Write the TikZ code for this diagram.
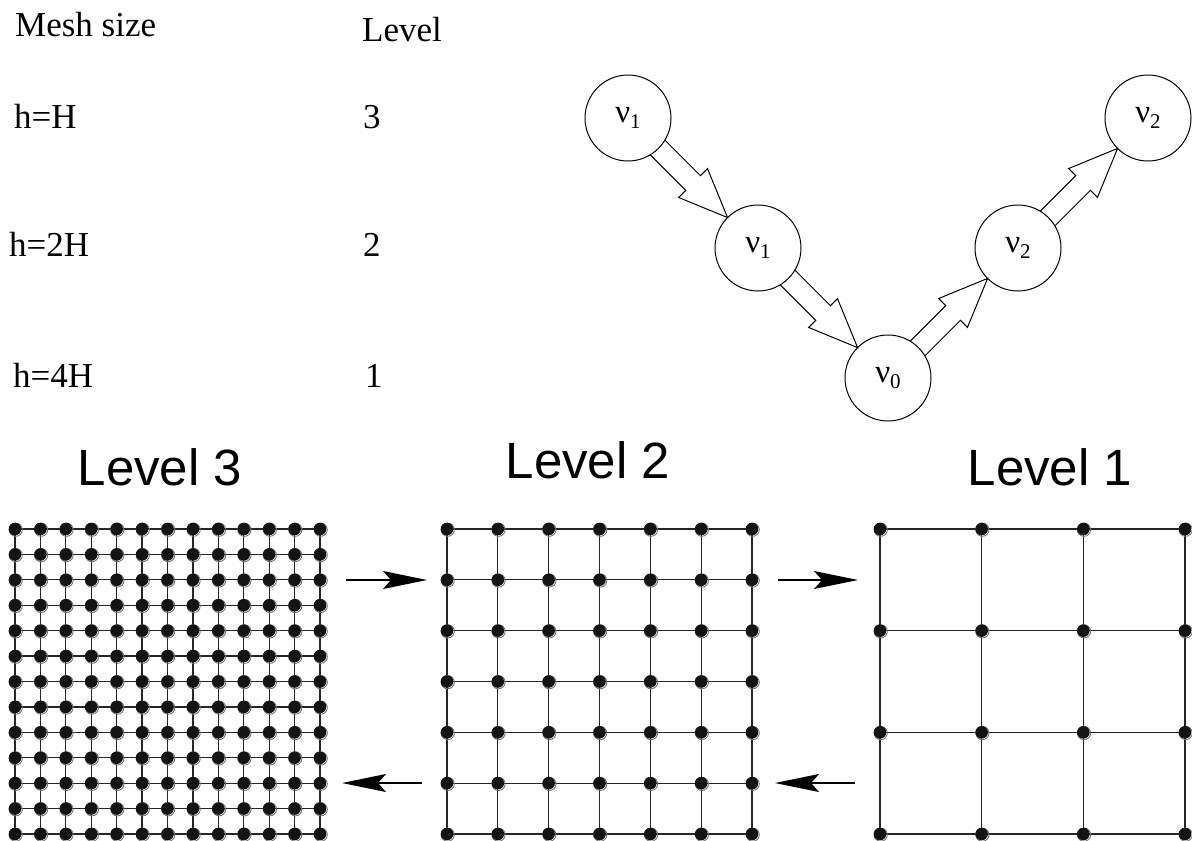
\documentclass[tikz,border=0pt]{standalone}
\usepackage{fontspec}
\setmainfont{Liberation Serif}
\newfontfamily\titlesans{Liberation Sans}
\usetikzlibrary{calc,arrows.meta}

% hollow block arrow between two circle nodes of radius 43pt
\newcommand\hollowarrow[2]{%
  \coordinate (ha-s) at ($(#1.center)!41.7pt!(#2.center)$);
  \coordinate (ha-t) at ($(#2.center)!43pt!(#1.center)$);
  \coordinate (ha-m) at ($(ha-s)!50.3pt!(ha-t)$);
  \draw[blockarr]
    ($(ha-s)!10.4pt!90:(ha-t)$) -- ($(ha-m)!10.4pt!90:(ha-t)$) --
    ($(ha-m)!20.4pt!90:(ha-t)$) -- (ha-t) --
    ($(ha-m)!20.4pt!-90:(ha-t)$) -- ($(ha-m)!10.4pt!-90:(ha-t)$) --
    ($(ha-s)!10.4pt!-90:(ha-t)$);
}

% node label: nu with a small lowered index
\newcommand\nulabel[1]{ν\raisebox{-6pt}{\fontsize{21}{21}\selectfont #1}}

% square mesh: #1 left x, #2 top y, #3 number of cells, #4 side length
\newcommand\meshgrid[4]{%
  \foreach \i in {0,...,#3}{%
    \draw[gridline] ({#1+\i*#4/#3},#2) -- ({#1+\i*#4/#3},{#2+#4});
    \draw[gridline] (#1,{#2+\i*#4/#3}) -- ({#1+#4},{#2+\i*#4/#3});
  }
  \foreach \i in {0,...,#3}{%
    \foreach \j in {0,...,#3}{%
      \draw[black!55, line width=0.9pt] ({#1+\i*#4/#3+0.7},{#2+\j*#4/#3+0.7}) circle (6.6pt);
      \fill[black!92] ({#1+\i*#4/#3},{#2+\j*#4/#3}) circle (6.3pt);
    }
  }
}

\begin{document}
\begin{tikzpicture}[x=1pt,y=-1pt,
  txt/.style={anchor=base west, inner sep=0pt, font=\fontsize{35}{40}\selectfont},
  vnode/.style={circle, draw, line width=1pt, minimum size=86pt, inner sep=0pt, outer sep=0pt,
                font=\fontsize{33}{33}\selectfont},
  blockarr/.style={line width=1pt, line join=miter},
  gridline/.style={line width=1.3pt, black!85},
  leveltitle/.style={anchor=base, inner sep=0pt, font=\titlesans\fontsize{51}{56}\selectfont},
  transfer/.style={line width=1.6pt, -{Stealth[length=44pt,width=18pt,inset=8pt]}}
]
\useasboundingbox (0,0) rectangle (1192,841);

% table of mesh sizes and levels
\node[txt] (hmesh)  at (15,36)  {Mesh size};
\node[txt] (hlevel) at (362,41) {Level};
\node[txt] (m3) at (14,128) {h=H};
\node[txt] (l3) at (363,128) {3};
\node[txt] (m2) at (9,256)  {h=2H};
\node[txt] (l2) at (363,256) {2};
\node[txt] (m1) at (13,387) {h=4H};
\node[txt] (l1) at (365,387) {1};

% V-cycle
\node[vnode] (va) at (628,118)  {\nulabel{1}};
\node[vnode] (vb) at (758,248)  {\nulabel{1}};
\node[vnode] (vc) at (888,378)  {\nulabel{0}};
\node[vnode] (vd) at (1018,248) {\nulabel{2}};
\node[vnode] (ve) at (1148,118) {\nulabel{2}};
\hollowarrow{va}{vb}
\hollowarrow{vb}{vc}
\hollowarrow{vc}{vd}
\hollowarrow{vd}{ve}

% grid titles
\node[leveltitle] (t3) at (160,485)  {Level 3};
\node[leveltitle] (t2) at (588,478)  {Level 2};
\node[leveltitle] (t1) at (1050,485) {Level 1};

% meshes
\meshgrid{15}{529}{12}{305}
\meshgrid{447}{529}{6}{305}
\meshgrid{880}{529}{3}{305}

% restriction and prolongation arrows
\coordinate (r1s) at (346,580);
\coordinate (r1e) at (427,580);
\coordinate (r2s) at (778,580);
\coordinate (r2e) at (858,580);
\coordinate (p1s) at (422,783);
\coordinate (p1e) at (342,783);
\coordinate (p2s) at (855,783);
\coordinate (p2e) at (775,783);
\draw[transfer] (r1s) -- (r1e);
\draw[transfer] (r2s) -- (r2e);
\draw[transfer] (p1s) -- (p1e);
\draw[transfer] (p2s) -- (p2e);
\end{tikzpicture}
\end{document}
